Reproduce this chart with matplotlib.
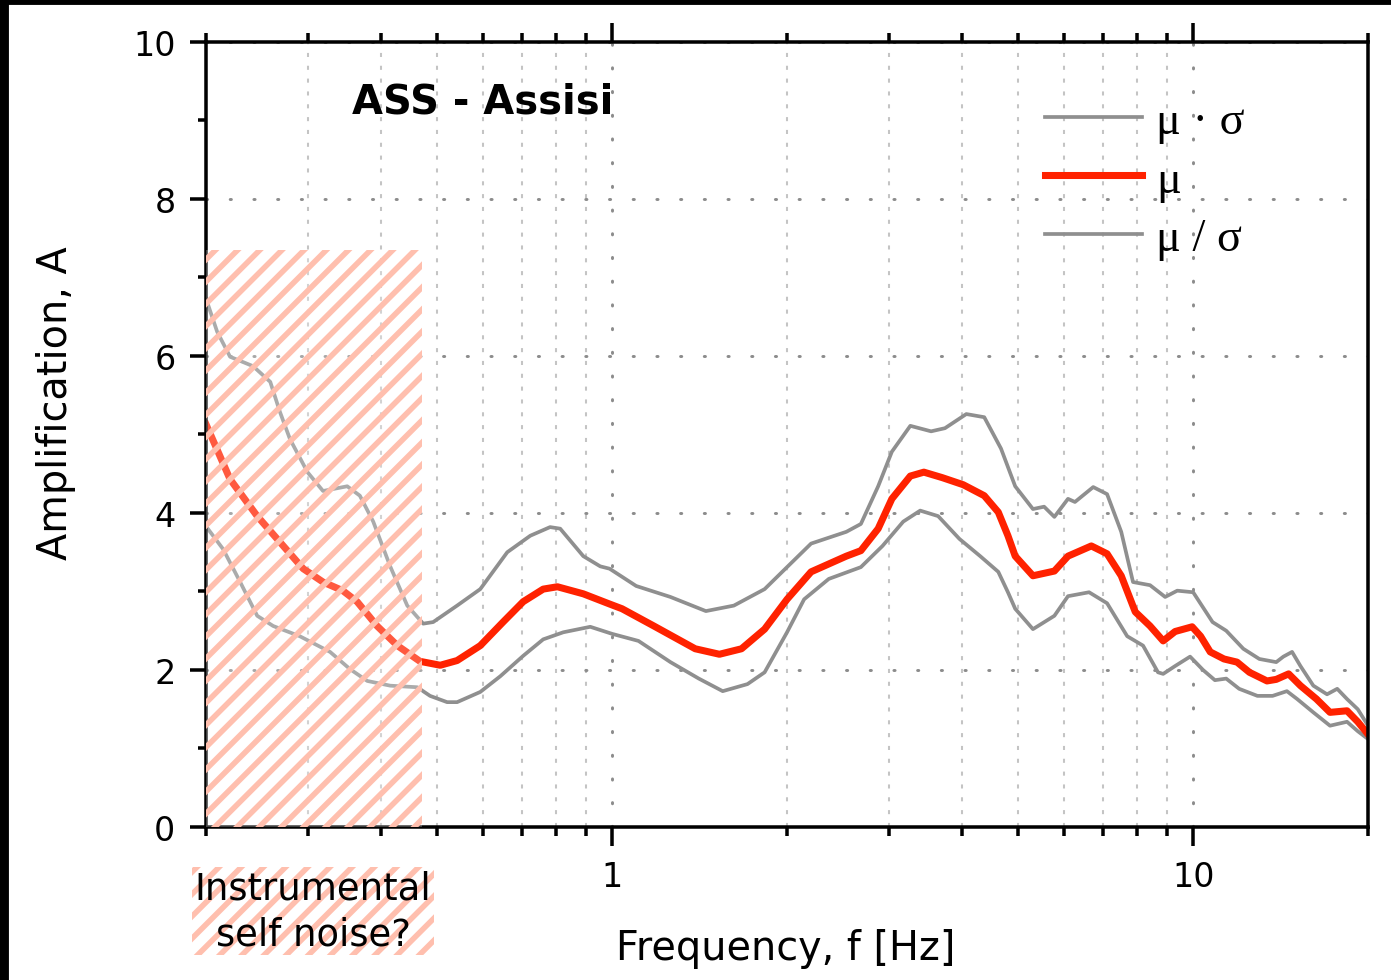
import numpy as np
import matplotlib as mpl
import matplotlib.pyplot as plt
from matplotlib.patches import Rectangle
from matplotlib.ticker import FixedLocator, MultipleLocator, LogLocator, NullFormatter, FuncFormatter

# 周波数 [Hz] と増幅率 A
freq_mean = [0.20, 0.22, 0.245, 0.268, 0.294, 0.318, 0.344, 0.364, 0.394, 0.427,
             0.467, 0.506, 0.541, 0.593, 0.649, 0.703, 0.761, 0.805, 0.892, 0.99,
             1.04, 1.18, 1.39, 1.53, 1.67, 1.83, 2.00, 2.20, 2.53, 2.68,
             2.87, 3.03, 3.26, 3.44, 3.70, 4.02, 4.37, 4.62, 4.80, 4.94,
             5.30, 5.77, 6.09, 6.68, 7.11, 7.52, 7.95, 8.43, 8.88, 9.31,
             9.96, 10.3, 10.7, 11.3, 11.9, 12.5, 13.4, 13.9, 14.6, 15.3,
             16.3, 17.2, 18.4, 19.2, 20.0]
amp_mean = [5.13, 4.43, 3.96, 3.63, 3.29, 3.12, 3.01, 2.87, 2.56, 2.31,
            2.11, 2.06, 2.12, 2.31, 2.61, 2.87, 3.03, 3.06, 2.97, 2.84,
            2.78, 2.56, 2.27, 2.20, 2.27, 2.52, 2.90, 3.25, 3.45, 3.52,
            3.80, 4.18, 4.47, 4.52, 4.45, 4.36, 4.22, 4.01, 3.71, 3.45,
            3.20, 3.26, 3.45, 3.58, 3.48, 3.20, 2.74, 2.56, 2.37, 2.49,
            2.55, 2.43, 2.23, 2.14, 2.10, 1.97, 1.86, 1.88, 1.95, 1.80,
            1.63, 1.46, 1.48, 1.34, 1.18]

freq_upper = [0.20, 0.209, 0.22, 0.241, 0.258, 0.268, 0.279, 0.299, 0.318, 0.350,
              0.368, 0.388, 0.415, 0.444, 0.473, 0.492, 0.541, 0.593, 0.660, 0.723,
              0.782, 0.814, 0.892, 0.954, 0.99, 1.10, 1.26, 1.45, 1.62, 1.83,
              2.00, 2.20, 2.53, 2.68, 2.87, 3.03, 3.26, 3.54, 3.74, 4.07,
              4.37, 4.67, 4.94, 5.30, 5.54, 5.77, 6.09, 6.26, 6.73, 7.11,
              7.52, 7.88, 8.43, 8.95, 9.39, 10.0, 10.8, 11.4, 12.2, 13.0,
              13.9, 14.3, 14.8, 15.3, 16.1, 17.0, 17.7, 18.4, 19.2, 20.0]
amp_upper = [6.73, 6.31, 5.99, 5.87, 5.67, 5.29, 4.94, 4.52, 4.28, 4.34,
             4.22, 3.89, 3.32, 2.82, 2.59, 2.61, 2.82, 3.03, 3.50, 3.71,
             3.82, 3.80, 3.45, 3.32, 3.29, 3.07, 2.93, 2.75, 2.82, 3.03,
             3.31, 3.61, 3.76, 3.86, 4.34, 4.78, 5.11, 5.04, 5.08, 5.26,
             5.22, 4.82, 4.34, 4.05, 4.08, 3.95, 4.18, 4.14, 4.33, 4.24,
             3.76, 3.12, 3.08, 2.93, 3.01, 2.99, 2.61, 2.50, 2.27, 2.14,
             2.10, 2.17, 2.23, 2.05, 1.80, 1.69, 1.76, 1.63, 1.50, 1.29]

freq_lower = [0.20, 0.214, 0.229, 0.245, 0.261, 0.290, 0.327, 0.354, 0.379, 0.415,
              0.462, 0.486, 0.520, 0.541, 0.593, 0.642, 0.703, 0.761, 0.824, 0.917,
              1.00, 1.11, 1.26, 1.41, 1.55, 1.71, 1.83, 2.00, 2.14, 2.36,
              2.68, 2.92, 3.17, 3.39, 3.64, 3.96, 4.30, 4.62, 4.80, 4.94,
              5.30, 5.77, 6.09, 6.62, 7.11, 7.70, 8.20, 8.70, 8.88, 9.31,
              9.88, 10.4, 10.9, 11.4, 12.0, 12.9, 13.7, 14.5, 15.1, 16.1,
              17.2, 18.4, 19.2, 20.0]
amp_lower = [3.83, 3.54, 3.12, 2.69, 2.56, 2.43, 2.23, 2.01, 1.86, 1.80,
             1.78, 1.67, 1.59, 1.59, 1.72, 1.92, 2.18, 2.39, 2.48, 2.55,
             2.46, 2.37, 2.10, 1.89, 1.73, 1.82, 1.97, 2.48, 2.90, 3.16,
             3.31, 3.58, 3.89, 4.03, 3.96, 3.67, 3.45, 3.25, 2.99, 2.78,
             2.52, 2.69, 2.94, 2.99, 2.85, 2.43, 2.31, 1.97, 1.95, 2.05,
             2.17, 2.00, 1.87, 1.89, 1.76, 1.67, 1.67, 1.73, 1.63, 1.46,
             1.29, 1.34, 1.22, 1.12]

# 軸範囲と自己ノイズ域
f_min, f_max = 0.2, 20.0
noise_fmax = 0.47
noise_amax = 7.35

DPI = 400 / 3
hatch_col = '#ffbfae'
mpl.rcParams['hatch.color'] = hatch_col
mpl.rcParams['hatch.linewidth'] = 3.0

fig = plt.figure(figsize=(1391 / DPI, 981 / DPI), dpi=DPI)
ax = fig.add_axes([0.1481, 0.1560, 0.8354, 0.8002])

gray = '#8f8f8f'
ax.plot(freq_upper, amp_upper, color=gray, lw=2.0, label='\u03bc \u00b7 \u03c3', zorder=2)
ax.plot(freq_mean, amp_mean, color='#ff2200', lw=3.8, label='\u03bc', zorder=2.1)
ax.plot(freq_lower, amp_lower, color=gray, lw=2.0, label='\u03bc / \u03c3', zorder=2)

# 自己ノイズ域のハッチ
ax.add_patch(Rectangle((f_min, 0), noise_fmax - f_min, noise_amax,
                       facecolor=(1, 1, 1, 0.25), hatch='//', linewidth=0, zorder=3))

ax.set_xscale('log')
ax.set_xlim(f_min, f_max)
ax.set_ylim(0, 10)

ax.xaxis.set_major_locator(FixedLocator([1, 10]))
ax.xaxis.set_major_formatter(FuncFormatter(lambda v, p: f'{v:g}'))
ax.xaxis.set_minor_locator(LogLocator(base=10, subs=np.arange(2, 10), numticks=20))
ax.xaxis.set_minor_formatter(NullFormatter())
ax.yaxis.set_major_locator(MultipleLocator(2))
ax.yaxis.set_minor_locator(MultipleLocator(1))

ax.tick_params(axis='both', which='both', direction='out', width=1.9,
               labelsize=18, pad=8, top=True, right=False)
ax.tick_params(axis='x', which='major', length=10)
ax.tick_params(axis='x', which='minor', length=5)
ax.tick_params(axis='y', which='major', length=8.5)
ax.tick_params(axis='y', which='minor', length=4.3)
for sp in ax.spines.values():
    sp.set_linewidth(1.9)

# グリッド
ax.xaxis.grid(True, which='major', color='#8c8c8c', linestyle=(0, (0.4, 7.6)),
              linewidth=1.6, dash_capstyle='round')
ax.yaxis.grid(True, which='major', color='#8c8c8c', linestyle=(0, (0.4, 7.6)),
              linewidth=1.6, dash_capstyle='round')
ax.xaxis.grid(True, which='minor', color='#c4c4c4', linestyle=(0, (2, 4.3)),
              linewidth=1.1)

ax.set_xlabel('Frequency, f [Hz]', fontsize=21.5)
ax.set_ylabel('Amplification, A', fontsize=21.5)
ax.xaxis.set_label_coords(0.4987, -0.1287)
ax.yaxis.set_label_coords(-0.1119, 0.541)

ax.text(0.1256, 0.9236, 'ASS - Assisi', transform=ax.transAxes, fontsize=21.6,
        fontweight='bold', ha='left', va='center')

ax.legend(loc='upper left', bbox_to_anchor=(0.722, 0.925), frameon=False,
          prop={'family': 'Liberation Serif', 'size': 25}, handlelength=2.1,
          handletextpad=0.3, labelspacing=0.34, borderpad=0, borderaxespad=0)

fig.text(313 / 1391, 1 - 912 / 981, 'Instrumental\nself noise?', ha='center', va='center',
         fontsize=20, linespacing=1.3,
         bbox=dict(boxstyle='square,pad=0.08', facecolor='white',
                   edgecolor=hatch_col, hatch='//', linewidth=0))

# 画像外枠の黒帯（上・左）
fig.add_artist(Rectangle((0, 1 - 5 / 981), 1, 5 / 981, transform=fig.transFigure,
                         color='black', zorder=10))
fig.add_artist(Rectangle((0, 0), 8 / 1391, 1, transform=fig.transFigure,
                         color='black', zorder=10))

fig.savefig('out.png', dpi=DPI)
